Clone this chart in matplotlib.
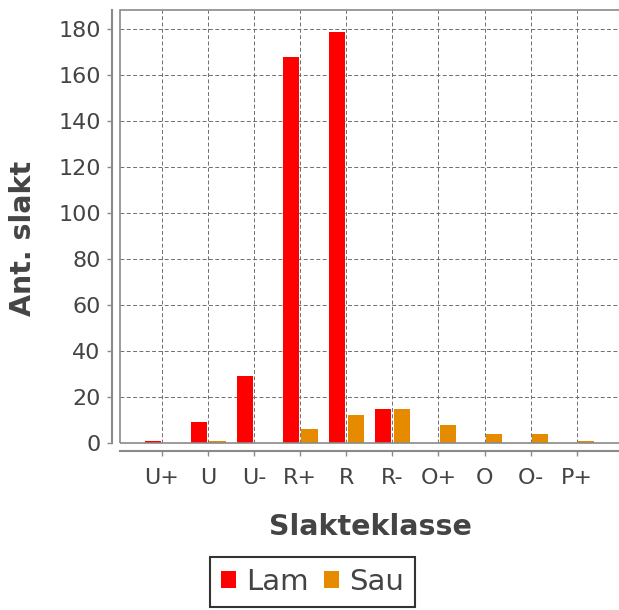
"""
Slakteklasse bar chart (Lam / Sau)
"""
import matplotlib
matplotlib.use("Agg")
import matplotlib.pyplot as plt
from matplotlib.patches import Rectangle
import numpy as np

klasser = ["U+", "U", "U-", "R+", "R", "R-", "O+", "O", "O-", "P+"]
lam = [1, 9, 29, 168, 179, 15, 0, 0, 0, 0]
sau = [0, 1, 0, 6, 12, 15, 8, 4, 4, 1]
yticks = [0, 20, 40, 60, 80, 100, 120, 140, 160, 180]

RED = "#ff0000"
ORANGE = "#e68a00"
TEXT = "#444444"
AXIS = "#8a8a8a"

W, H = 619, 610


def main():
    fig = plt.figure(figsize=(W / 100, H / 100), dpi=100)
    left, right, top, bottom = 120, 621, 10, 443
    ax = fig.add_axes([left / W, 1 - bottom / H, (right - left) / W, (bottom - top) / H])

    x = np.arange(len(klasser))
    width = 0.352
    off = 0.202
    ax.bar(x - off, lam, width, color=RED, label="Lam", zorder=3)
    ax.bar(x + off, sau, width, color=ORANGE, label="Sau", zorder=3)

    ax.set_xlim(-0.913, 9 + (right - 576.7) / 46.0)
    ax.set_ylim(0, 188.4)
    ax.set_xticks(x)
    ax.set_xticklabels(klasser)
    ax.set_yticks(yticks)

    ax.grid(True, color="#6e6e6e", linestyle=(0, (4, 2.5)), linewidth=0.7)
    ax.set_axisbelow(True)

    # plot outline
    ax.add_patch(Rectangle((0, 0), 1, 1, transform=ax.transAxes, fill=False,
                           edgecolor=AXIS, linewidth=1.2, clip_on=False, zorder=4))
    ax.spines["top"].set_visible(False)
    ax.spines["right"].set_visible(False)
    for side in ("left", "bottom"):
        ax.spines[side].set_position(("outward", 8 * 0.72))
        ax.spines[side].set_color(AXIS)
        ax.spines[side].set_linewidth(1.5)

    ax.tick_params(axis="both", colors=AXIS, length=3.6, width=1, labelcolor=TEXT,
                   labelsize=16)
    ax.tick_params(axis="x", pad=8.5)
    ax.tick_params(axis="y", pad=4.5)

    fig.text(23.5 / W, 1 - 238 / H, "Ant. slakt", rotation=90, ha="center", va="center",
             fontsize=20.5, fontweight="bold", color=TEXT)
    fig.text(370 / W, 1 - 527 / H, "Slakteklasse", ha="center", va="center",
             fontsize=20.5, fontweight="bold", color=TEXT)

    leg = fig.legend(loc="center", bbox_to_anchor=(312.5 / W, 1 - 582 / H), ncol=2,
                     fontsize=21, frameon=True, fancybox=False, handlelength=0.52,
                     handleheight=0.52, handletextpad=0.35, columnspacing=0.5,
                     borderpad=0.38, borderaxespad=0)
    leg.get_frame().set_edgecolor("black")
    leg.get_frame().set_linewidth(1.5)
    for t in leg.get_texts():
        t.set_color(TEXT)

    fig.savefig("out.png", dpi=100)


if __name__ == "__main__":
    main()
